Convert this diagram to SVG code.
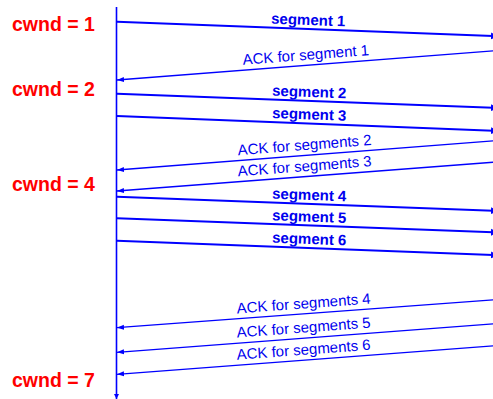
<svg xmlns="http://www.w3.org/2000/svg" width="493" height="399" viewBox="0 0 493 399">
  <style>
    .cwnd { font-family: "Liberation Sans", Arial, sans-serif; font-weight: bold; font-size: 19.5px; fill: #ff0000; }
    .seg-label { font-family: "Liberation Sans", Arial, sans-serif; font-weight: bold; font-size: 15px; fill: #0000ee; }
    .ack-label { font-family: "Liberation Sans", Arial, sans-serif; font-size: 15px; fill: #0000ee; }
    .timeline { stroke: #0000ff; stroke-width: 1.6; fill: none; }
    .seg { stroke: #0000ff; stroke-width: 2; fill: none; marker-end: url(#seg-head); }
    .ack { stroke: #0000ff; stroke-width: 1.3; fill: none; marker-end: url(#ack-head); }
  </style>
  <defs>
    <marker id="seg-head" markerUnits="userSpaceOnUse" markerWidth="8" markerHeight="8" refX="7" refY="4" orient="auto">
      <path d="M0,0.5 L7,4 L0,7.5 Z" fill="#0000ff"/>
    </marker>
    <marker id="ack-head" markerUnits="userSpaceOnUse" markerWidth="8" markerHeight="6" refX="7" refY="3" orient="auto">
      <path d="M0,0.5 L7,3 L0,5.5 Z" fill="#0000ff"/>
    </marker>
    <marker id="time-head" markerUnits="userSpaceOnUse" markerWidth="6" markerHeight="6" refX="5" refY="3" orient="auto">
      <path d="M0,0.5 L5,3 L0,5.5 Z" fill="#0000ff"/>
    </marker>
  </defs>

  <!-- congestion window values -->
  <g id="cwnd-1"><text class="cwnd" x="12" y="31">cwnd = 1</text></g>
  <g id="cwnd-2"><text class="cwnd" x="12" y="96">cwnd = 2</text></g>
  <g id="cwnd-4"><text class="cwnd" x="12" y="191">cwnd = 4</text></g>
  <g id="cwnd-7"><text class="cwnd" x="12" y="387">cwnd = 7</text></g>

  <!-- sender timeline -->
  <g id="sender">
    <line class="timeline" x1="116.5" y1="7" x2="116.5" y2="399" marker-end="url(#time-head)"/>
  </g>

  <!-- segments and acknowledgements -->
  <g id="connectors">
    <line class="seg" x1="117" y1="21.7" x2="498" y2="36.2"/>
    <line class="ack" x1="495" y1="50.8" x2="117" y2="80"/>
    <line class="seg" x1="117" y1="93.7" x2="498" y2="107.9"/>
    <line class="seg" x1="117" y1="116" x2="498" y2="130.9"/>
    <line class="ack" x1="495" y1="140.8" x2="117" y2="170"/>
    <line class="ack" x1="495" y1="162.1" x2="117" y2="191"/>
    <line class="seg" x1="117" y1="196.7" x2="498" y2="210.9"/>
    <line class="seg" x1="117" y1="218.3" x2="498" y2="232.5"/>
    <line class="seg" x1="117" y1="240.7" x2="498" y2="255.2"/>
    <line class="ack" x1="495" y1="299.8" x2="117" y2="327.7"/>
    <line class="ack" x1="495" y1="323.8" x2="117" y2="352.3"/>
    <line class="ack" x1="495" y1="345.8" x2="117" y2="374.3"/>
  </g>

  <!-- labels -->
  <g id="seg-1"><text class="seg-label" x="271" y="23.6" transform="rotate(2.18 271 23.6)">segment 1</text></g>
  <g id="ack-1"><text class="ack-label" x="243" y="64.8" transform="rotate(-4.41 243 64.8)">ACK for segment 1</text></g>
  <g id="seg-2"><text class="seg-label" x="272" y="95.6" transform="rotate(2.13 272 95.6)">segment 2</text></g>
  <g id="seg-3"><text class="seg-label" x="272" y="117.9" transform="rotate(2.24 272 117.9)">segment 3</text></g>
  <g id="ack-2"><text class="ack-label" x="238" y="155.2" transform="rotate(-4.41 238 155.2)">ACK for segments 2</text></g>
  <g id="ack-3"><text class="ack-label" x="238" y="176.3" transform="rotate(-4.36 238 176.3)">ACK for segments 3</text></g>
  <g id="seg-4"><text class="seg-label" x="272" y="198.6" transform="rotate(2.13 272 198.6)">segment 4</text></g>
  <g id="seg-5"><text class="seg-label" x="272" y="220.2" transform="rotate(2.13 272 220.2)">segment 5</text></g>
  <g id="seg-6"><text class="seg-label" x="272" y="242.6" transform="rotate(2.18 272 242.6)">segment 6</text></g>
  <g id="ack-4"><text class="ack-label" x="237" y="313.4" transform="rotate(-4.21 237 313.4)">ACK for segments 4</text></g>
  <g id="ack-5"><text class="ack-label" x="237" y="337.6" transform="rotate(-4.31 237 337.6)">ACK for segments 5</text></g>
  <g id="ack-6"><text class="ack-label" x="237" y="359.8" transform="rotate(-4.31 237 359.8)">ACK for segments 6</text></g>
</svg>
